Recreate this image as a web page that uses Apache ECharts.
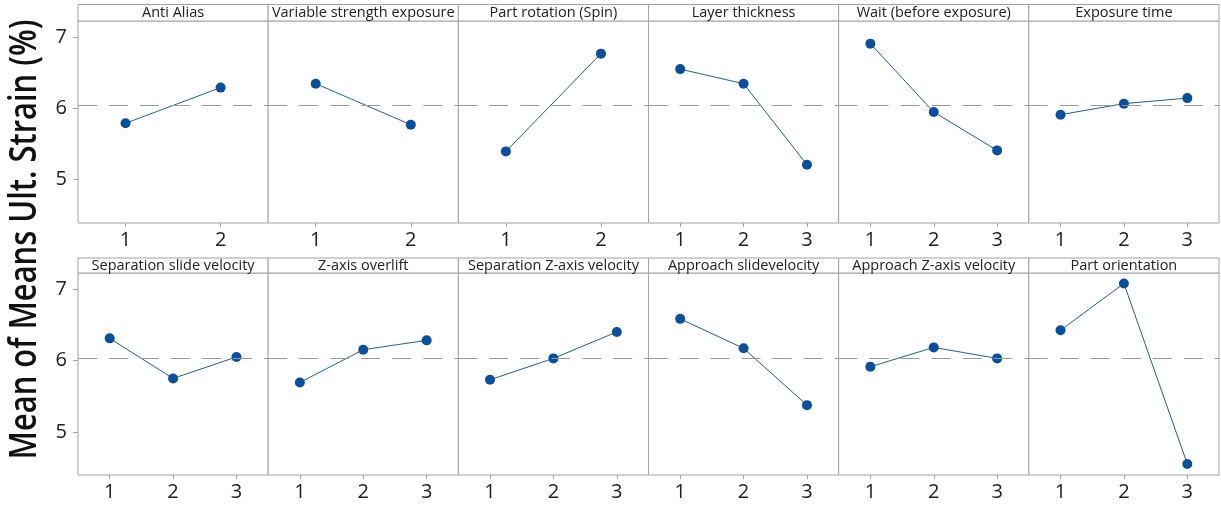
<!DOCTYPE html>
<html>
<head>
<meta charset="utf-8">
<script src="https://cdn.jsdelivr.net/npm/echarts@6/dist/echarts.min.js"></script>
<style>
html,body{margin:0;padding:0;background:#fff;}
#chart{width:1221px;height:505px;}
</style>
</head>
<body>
<div id="chart"></div>
<script>
// ---- Data ----
const panelTitles = [
  'Anti Alias', 'Variable strength exposure', 'Part rotation (Spin)', 'Layer thickness',
  'Wait (before exposure)', 'Exposure time',
  'Separation slide velocity', 'Z-axis overlift', 'Separation Z-axis velocity',
  'Approach slidevelocity', 'Approach Z-axis velocity', 'Part orientation'
];
const levels2 = ['1', '2'];
const levels3 = ['1', '2', '3'];
const yTicks = [5, 6, 7];
const overallMean = 6.045;

const antiAlias = [5.79, 6.29];
const variableStrength = [6.345, 5.77];
const partRotation = [5.395, 6.767];
const layerThickness = [6.55, 6.345, 5.208];
const waitBefore = [6.907, 5.947, 5.409];
const exposureTime = [5.91, 6.065, 6.143];
const sepSlideVel = [6.311, 5.753, 6.052];
const zOverlift = [5.697, 6.153, 6.283];
const sepZVel = [5.735, 6.032, 6.40];
const approachSlideVel = [6.582, 6.172, 5.382];
const approachZVel = [5.916, 6.185, 6.032];
const partOrientation = [6.423, 7.074, 4.563];

const panelValues = [antiAlias, variableStrength, partRotation, layerThickness, waitBefore, exposureTime,
  sepSlideVel, zOverlift, sepZVel, approachSlideVel, approachZVel, partOrientation];
const panelLevels = [levels2, levels2, levels2, levels3, levels3, levels3,
  levels3, levels3, levels3, levels3, levels3, levels3];

// ---- Layout ----
const FONT = "'Open Sans', 'Noto Sans', sans-serif";
const left0 = 78, right0 = 1219;
const pw = (right0 - left0) / 6;
const rows = [
  {stripTop: 4.5, top: 21, height: 202, min: 4.39, max: 7.225},
  {stripTop: 258, top: 273, height: 202, min: 4.41, max: 7.22}
];
const border = '#a3a3a3';

const grids = [], xAxes = [], yAxes = [], series = [], graphics = [];
for (let i = 0; i < 12; i++) {
  const r = Math.floor(i / 6), c = i % 6;
  const row = rows[r];
  const x = left0 + c * pw;
  grids.push({left: x, top: row.top, width: pw, height: row.height,
    show: true, borderColor: border, borderWidth: 1, backgroundColor: '#fff'});
  xAxes.push({type: 'category', gridIndex: i, data: panelLevels[i], boundaryGap: true,
    axisLine: {show: false},
    axisTick: {show: true, alignWithLabel: true, length: 4, lineStyle: {color: border}},
    axisLabel: {show: true, margin: 7, fontSize: 20, color: '#222', fontFamily: FONT}});
  yAxes.push({type: 'value', gridIndex: i, min: row.min, max: row.max,
    axisLine: {show: false}, splitLine: {show: false},
    axisTick: {show: c === 0, length: 5, customValues: yTicks, lineStyle: {color: border}},
    axisLabel: {show: c === 0, customValues: yTicks, margin: 11, fontSize: 20, color: '#222', fontFamily: FONT}});
  series.push({type: 'line', xAxisIndex: i, yAxisIndex: i, data: panelValues[i],
    symbol: 'circle', symbolSize: 10, silent: true, animation: false,
    itemStyle: {color: '#0a4f9c'},
    lineStyle: {color: '#2b5f82', width: 1},
    markLine: {silent: true, symbol: 'none', label: {show: false},
      lineStyle: {color: '#9a9a9a', type: [19, 12], width: 1},
      data: [{yAxis: overallMean}]},
    z: 3});
  // title strip
  graphics.push({type: 'rect', shape: {x: x, y: row.stripTop, width: pw, height: row.top - row.stripTop},
    style: {fill: '#fff', stroke: border, lineWidth: 1}, z: 1});
  graphics.push({type: 'text', x: x + pw / 2, y: (row.stripTop + row.top) / 2 + 0.5,
    style: {text: panelTitles[i], fontSize: 14.5, fontFamily: FONT, fill: '#222',
      textAlign: 'center', textVerticalAlign: 'middle'}, z: 2});
}
graphics.push({type: 'text', x: 25, y: 239.5, rotation: Math.PI / 2, scaleX: 0.835,
  style: {text: 'Mean of Means Ult. Strain (%)', fontSize: 37, fontWeight: 600, fontFamily: FONT, fill: '#111',
    textAlign: 'center', textVerticalAlign: 'middle'}});

const chart = echarts.init(document.getElementById('chart'), null, {renderer: 'canvas'});
chart.setOption({
  animation: false,
  backgroundColor: '#fff',
  grid: grids, xAxis: xAxes, yAxis: yAxes, series: series,
  graphic: graphics
});
</script>
</body>
</html>
